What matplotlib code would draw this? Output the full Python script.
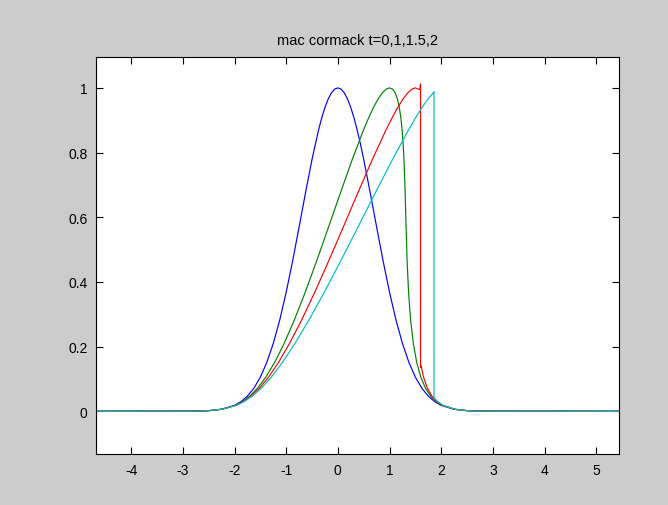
import matplotlib
matplotlib.use("Agg")
import matplotlib.pyplot as plt

plt.rcParams['font.family'] = ['Liberation Sans', 'DejaVu Sans']

title = "mac cormack t=0,1,1.5,2"
x_ticks = [-4, -3, -2, -1, 0, 1, 2, 3, 4, 5]
y_ticks = [0, 0.2, 0.4, 0.6, 0.8, 1.0]
y_ticklabels = ["0", "0.2", "0.4", "0.6", "0.8", "1"]

# t = 0 (blue)
x_t0 = [-4.68, -2.7, -2.5, -2.25, -2.0, -1.875, -1.75, -1.625, -1.5, -1.375, -1.25, -1.125,
        -1.0, -0.875, -0.75, -0.625, -0.5, -0.375, -0.3125, -0.25, -0.1875, -0.125, -0.0625,
        0.0, 0.0625, 0.125, 0.1875, 0.25, 0.3125, 0.375, 0.4375,
        0.5, 0.625, 0.75, 0.875, 1.0, 1.125, 1.25, 1.375, 1.5, 1.625, 1.75, 1.875, 2.0,
        2.25, 2.5, 2.7, 5.44]
u_t0 = [0.0, 0.0006, 0.0019, 0.0063, 0.0183, 0.0297, 0.0468, 0.0713, 0.1054, 0.1510, 0.2096, 0.2820,
        0.3679, 0.4650, 0.5698, 0.6766, 0.7788, 0.8688, 0.9070, 0.9394, 0.9655, 0.9845, 0.9961,
        1.0, 0.9961, 0.9845, 0.9655, 0.9394, 0.9070, 0.8688, 0.8258,
        0.7788, 0.6766, 0.5698, 0.4650, 0.3679, 0.2820, 0.2096, 0.1510, 0.1054, 0.0713, 0.0468, 0.0297, 0.0183,
        0.0063, 0.0019, 0.0006, 0.0]

# t = 1 (green)
x_t1 = [-4.68, -2.7, -2.498, -2.244, -1.982, -1.845, -1.703, -1.554, -1.395, -1.224, -1.040, -0.843,
        -0.632, -0.410, -0.180, 0.052, 0.279, 0.494, 0.5945, 0.689, 0.778, 0.860, 0.9336,
        1.0, 1.0586, 1.110, 1.153, 1.189, 1.2195, 1.244, 1.2633,
        1.279, 1.302, 1.320, 1.340, 1.368, 1.407, 1.460, 1.526, 1.605, 1.696, 1.797, 1.905, 2.018,
        2.256, 2.502, 2.7, 5.44]
u_t1 = u_t0

# t = 1.5 (red)
x_t15 = [-4.68, -2.7, -2.497, -2.241, -1.973, -1.830, -1.680, -1.518, -1.342, -1.149, -0.936, -0.702,
         -0.448, -0.177, 0.105, 0.390, 0.668, 0.928, 1.048, 1.159, 1.261, 1.351, 1.432, 1.500, 1.557,
         1.585, 1.600, 1.600, 1.611, 1.658, 1.732, 1.820, 1.920, 2.028, 2.260, 2.503, 2.7, 5.44]
u_t15 = [0.0, 0.0006, 0.0019, 0.0063, 0.0183, 0.0297, 0.0468, 0.0713, 0.1054, 0.1510, 0.2096, 0.2820,
         0.3679, 0.4650, 0.5698, 0.6766, 0.7788, 0.8688, 0.9070, 0.9394, 0.9655, 0.9845, 0.9961, 1.0, 0.9961,
         0.9950, 1.012, 0.135, 0.1409, 0.1054, 0.0713, 0.0468, 0.0297, 0.0183, 0.0063, 0.0019, 0.0006, 0.0]

# t = 2 (cyan)
x_t2 = [-4.68, -2.7, -2.496, -2.237, -1.963, -1.816, -1.657, -1.482, -1.289, -1.073, -0.831, -0.561,
        -0.264, 0.055, 0.390, 0.728, 1.058, 1.363, 1.501, 1.629, 1.743, 1.844, 1.860,
        1.860, 1.878, 1.935, 2.037, 2.263, 2.504, 2.7, 5.44]
u_t2 = [0.0, 0.0006, 0.0019, 0.0063, 0.0183, 0.0297, 0.0468, 0.0713, 0.1054, 0.1510, 0.2096, 0.2820,
        0.3679, 0.4650, 0.5698, 0.6766, 0.7788, 0.8688, 0.9070, 0.9394, 0.9655, 0.9845, 0.988,
        0.043, 0.0392, 0.0297, 0.0183, 0.0063, 0.0019, 0.0006, 0.0]

fig = plt.figure(figsize=(6.68, 5.06), dpi=100, facecolor=(0.8, 0.8, 0.8))
ax = fig.add_axes([96/668, 1 - 455.3/506, (619 - 96)/668, (455.3 - 57.5)/506])
ax.set_facecolor("white")

lw = 0.85
ax.plot(x_t0, u_t0, color=(0, 0, 1), lw=lw)
ax.plot(x_t1, u_t1, color=(0, 0.5, 0), lw=lw)
ax.plot(x_t15, u_t15, color=(1, 0, 0), lw=lw)
ax.plot(x_t2, u_t2, color=(0, 0.75, 0.75), lw=lw)

ax.set_xlim(-4.68, 5.44)
ax.set_ylim(-0.133, 1.097)
ax.set_xticks(x_ticks)
ax.set_xticklabels([str(v) for v in x_ticks])
ax.set_yticks(y_ticks)
ax.set_yticklabels(y_ticklabels)
ax.tick_params(direction='in', length=5, width=0.8, top=True, right=True,
               labelsize=10, colors='black', pad=6)
for s in ax.spines.values():
    s.set_linewidth(0.8)
    s.set_color('black')

ax.set_title(title, fontsize=10.5, pad=9)

fig.savefig("out.png", dpi=100, facecolor=fig.get_facecolor())
